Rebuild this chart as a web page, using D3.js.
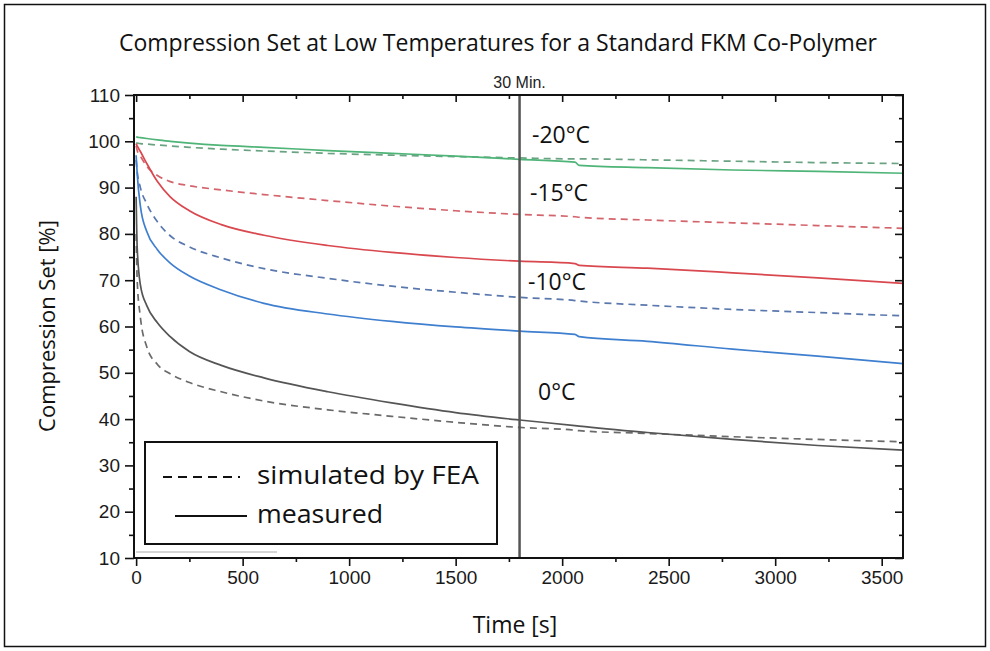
<!DOCTYPE html>
<html>
<head>
  <script src="https://cdn.jsdelivr.net/npm/d3@7"></script>
  <style>
    body { margin: 0; background: #fff; }
    .tick text { font-family: "Liberation Sans", Arial, sans-serif; font-size: 19px; fill: #1a1a1a; }
    .tick line { stroke: #111; stroke-width: 1.6px; }
    .domain { display: none; }
    .lbl { font-family: "Open Sans", sans-serif; fill: #111; }
  </style>
</head>
<body>
  <svg id="chart" width="990" height="651"></svg>
  <script>
    // time grid [s]
    const times = [0, 5, 20, 50, 100, 160, 250, 400, 600, 900, 1200, 1500, 1800, 2060, 2080, 2400, 2800, 3200, 3600];

    // compression set [%], measured (solid) and FEA (dashed)
    const meas20 = [101, 100.9, 100.8, 100.6, 100.3, 100.0, 99.6, 99.1, 98.7, 98.0, 97.4, 96.8, 96.1, 95.5, 94.8, 94.3, 93.8, 93.5, 93.1];
    const sim20 = [99.7, 99.6, 99.5, 99.4, 99.2, 99.0, 98.7, 98.3, 97.9, 97.4, 97.0, 96.7, 96.4, 96.2, 96.2, 96.0, 95.7, 95.4, 95.2];
    const meas15 = [99.5, 99, 97.8, 95.2, 91.3, 88.0, 85.0, 82.0, 79.7, 77.5, 76.0, 74.9, 74.1, 73.6, 73.2, 72.6, 71.6, 70.5, 69.3];
    const sim15 = [99, 98, 96.8, 94.6, 92.6, 91.3, 90.4, 89.5, 88.5, 87.2, 86.0, 85.0, 84.2, 83.7, 83.6, 83.0, 82.4, 81.8, 81.2];
    const meas10 = [97, 93, 86, 80.5, 76.6, 73.7, 70.9, 67.9, 65.0, 62.7, 61.1, 59.9, 59.0, 58.3, 57.8, 56.8, 55.1, 53.6, 52.0];
    const sim10 = [96, 93.5, 90, 86.5, 82.6, 79.6, 77.2, 74.8, 72.5, 70.4, 68.7, 67.4, 66.3, 65.6, 65.5, 64.6, 63.7, 63.0, 62.3];
    const meas0 = [88, 77, 69, 64.5, 60.8, 57.8, 54.6, 51.6, 48.9, 45.9, 43.5, 41.4, 39.8, 38.6, 38.5, 37.1, 35.6, 34.3, 33.3];
    const sim0 = [80, 70, 62, 55.6, 51.8, 49.8, 47.9, 45.9, 43.9, 42.0, 40.6, 39.3, 38.2, 37.6, 37.5, 36.9, 36.2, 35.6, 35.1];

    const xMajor = [0, 500, 1000, 1500, 2000, 2500, 3000, 3500];
    const xMinor = [250, 750, 1250, 1750, 2250, 2750, 3250];
    const yMajor = [10, 20, 30, 40, 50, 60, 70, 80, 90, 100, 110];
    const yMinor = [15, 25, 35, 45, 55, 65, 75, 85, 95, 105];

    const tempLabels = ["-20°C", "-15°C", "-10°C", "0°C"];
    const markerTime = 1800;

    const series = [
      { v: sim20, color: "#6aa382", dash: true },
      { v: meas20, color: "#4fb477", dash: false },
      { v: sim15, color: "#d4646c", dash: true },
      { v: meas15, color: "#d9484f", dash: false },
      { v: sim10, color: "#5a78ae", dash: true },
      { v: meas10, color: "#3f7fcf", dash: false },
      { v: sim0, color: "#6a6a6a", dash: true },
      { v: meas0, color: "#555", dash: false }
    ];

    const svg = d3.select("#chart");
    const L = 134, R = 903, T = 95, B = 558;

    const x = d3.scaleLinear().domain([-10, 3600]).range([L, R]);
    const y = d3.scaleLinear().domain([10, 110]).range([B, T]);

    // outer frame
    svg.append("rect").attr("x", 4.5).attr("y", 4.5).attr("width", 981).attr("height", 642)
      .attr("fill", "none").attr("stroke", "#111").attr("stroke-width", 1.5);

    svg.append("text").attr("class", "lbl").attr("x", 498).attr("y", 51)
      .attr("text-anchor", "middle").attr("font-size", 23)
      .attr("textLength", 758).attr("lengthAdjust", "spacingAndGlyphs")
      .text("Compression Set at Low Temperatures for a Standard FKM Co-Polymer");

    svg.append("clipPath").attr("id", "clip").append("rect")
      .attr("x", L).attr("y", T).attr("width", R - L).attr("height", B - T);

    const line = d3.line().x((d, i) => x(times[i])).y(d => y(d)).curve(d3.curveMonotoneX);

    svg.append("g").attr("clip-path", "url(#clip)").selectAll("path").data(series).join("path")
      .attr("d", d => line(d.v))
      .attr("fill", "none")
      .attr("stroke", d => d.color)
      .attr("stroke-width", 1.7)
      .attr("stroke-dasharray", d => d.dash ? "7,5" : null);

    // stray gray rule near the baseline
    svg.append("line").attr("x1", x(0)).attr("x2", 277).attr("y1", 552).attr("y2", 552)
      .attr("stroke", "#aaa").attr("stroke-width", 1);

    // 30 min marker
    svg.append("line").attr("x1", x(markerTime)).attr("x2", x(markerTime)).attr("y1", T).attr("y2", B)
      .attr("stroke", "#555").attr("stroke-width", 2.5);
    svg.append("text").attr("x", x(markerTime)).attr("y", 88).attr("text-anchor", "middle")
      .attr("font-family", "Liberation Sans, Arial, sans-serif").attr("font-size", 16).attr("fill", "#222")
      .text("30 Min.");

    // axes
    const ax = (gen, tf) => svg.append("g").attr("transform", tf).call(gen);
    const fmt = d3.format("d");
    ax(d3.axisBottom(x).tickValues(xMajor).tickSize(8).tickPadding(5).tickFormat(fmt), `translate(0,${B})`);
    ax(d3.axisBottom(x).tickValues(xMinor).tickSize(4).tickFormat(""), `translate(0,${B})`);
    ax(d3.axisTop(x).tickValues(xMajor).tickSize(-7).tickFormat(""), `translate(0,${T})`);
    ax(d3.axisTop(x).tickValues(xMinor).tickSize(-4).tickFormat(""), `translate(0,${T})`);
    ax(d3.axisLeft(y).tickValues(yMajor).tickSize(9).tickPadding(5).tickFormat(fmt), `translate(${L},0)`);
    ax(d3.axisLeft(y).tickValues(yMinor).tickSize(5).tickFormat(""), `translate(${L},0)`);
    ax(d3.axisRight(y).tickValues(yMajor).tickSize(-8).tickFormat(""), `translate(${R},0)`);
    ax(d3.axisRight(y).tickValues(yMinor).tickSize(-4).tickFormat(""), `translate(${R},0)`);

    svg.append("rect").attr("x", L).attr("y", T).attr("width", R - L).attr("height", B - T)
      .attr("fill", "none").attr("stroke", "#111").attr("stroke-width", 2);

    // temperature labels
    const labelPos = [[532, 143], [530, 201], [528, 290], [538, 400]];
    svg.selectAll(".temp").data(tempLabels).join("text").attr("class", "lbl temp")
      .attr("x", (d, i) => labelPos[i][0]).attr("y", (d, i) => labelPos[i][1])
      .attr("font-size", 23).text(d => d);

    // axis titles
    svg.append("text").attr("class", "lbl").attr("x", 515).attr("y", 633)
      .attr("text-anchor", "middle").attr("font-size", 23).text("Time [s]");
    svg.append("text").attr("class", "lbl").attr("transform", "translate(55,326) rotate(-90)")
      .attr("text-anchor", "middle").attr("font-size", 22).text("Compression Set [%]");

    // legend
    const lg = svg.append("g");
    lg.append("rect").attr("x", 145).attr("y", 442).attr("width", 352).attr("height", 102)
      .attr("fill", "#fff").attr("stroke", "#111").attr("stroke-width", 2);
    lg.append("line").attr("x1", 163).attr("x2", 240).attr("y1", 477).attr("y2", 477)
      .attr("stroke", "#111").attr("stroke-width", 2).attr("stroke-dasharray", "9,6");
    lg.append("line").attr("x1", 175).attr("x2", 247).attr("y1", 516).attr("y2", 516)
      .attr("stroke", "#111").attr("stroke-width", 2);
    lg.append("text").attr("class", "lbl").attr("x", 257).attr("y", 484).attr("font-size", 26)
      .attr("textLength", 222).attr("lengthAdjust", "spacingAndGlyphs").text("simulated by FEA");
    lg.append("text").attr("class", "lbl").attr("x", 257).attr("y", 523).attr("font-size", 26)
      .attr("textLength", 126).attr("lengthAdjust", "spacingAndGlyphs").text("measured");
  </script>
</body>
</html>
